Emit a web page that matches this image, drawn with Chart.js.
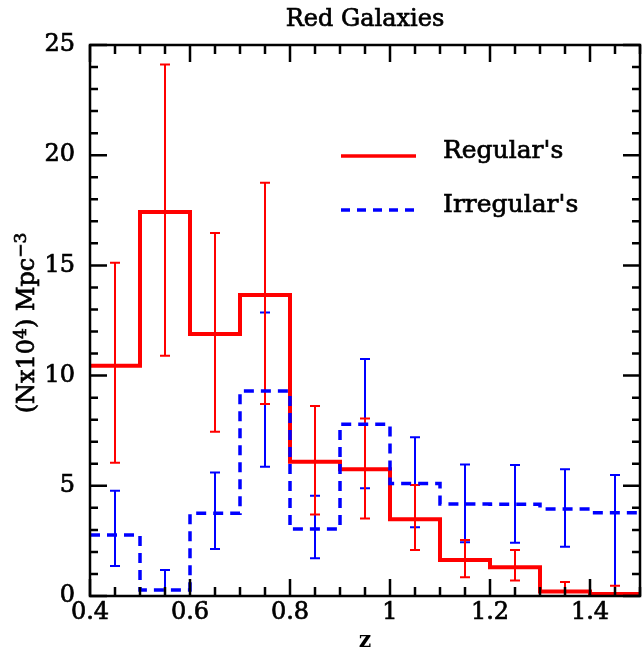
<!DOCTYPE html>
<html>
<head>
<meta charset="utf-8">
<script src="https://cdn.jsdelivr.net/npm/chart.js@4/dist/chart.umd.min.js"></script>
<style>
  html, body { margin: 0; padding: 0; background: #fff; }
  #wrap { width: 642px; height: 656px; }
</style>
</head>
<body>
<div id="wrap"><canvas id="c" width="642" height="656"></canvas></div>
<script>
// Redshift bins (edges) for the number-density histograms
const binEdges = [0.4, 0.5, 0.6, 0.7, 0.8, 0.9, 1.0, 1.1, 1.2, 1.3, 1.4, 1.5];

// Regular red galaxies: density per bin and error-bar limits
const regular   = [10.45, 17.42, 11.89, 13.66, 6.09, 5.75, 3.48, 1.63, 1.30, 0.20, 0.09];
const regularHi = [15.12, 24.12, 16.47, 18.75, 8.62, 8.05, 5.04, 2.54, 2.09, 0.64, 0.47];
const regularLo = [ 6.05, 10.90,  7.45,  8.71, 3.70, 3.52, 2.09, 0.85, 0.70, 0.00, 0.00];

// Irregular red galaxies
const irregular   = [2.77, 0.27, 3.75,  9.30, 3.04,  7.79, 5.11, 4.17, 4.16, 3.95, 3.78];
const irregularHi = [4.78, 1.18, 5.60, 12.86, 4.55, 10.75, 7.20, 5.97, 5.94, 5.75, 5.49];
const irregularLo = [1.36, 0.00, 2.13,  5.87, 1.71,  4.89, 3.12, 2.44, 2.42, 2.24, 0.00];

const xTickLabels = [0.4, 0.6, 0.8, 1.0, 1.2, 1.4];
const yTickLabels = [0, 5, 10, 15, 20, 25];

const FONT = '"DejaVu Serif", "Liberation Serif", serif';
const FS = 24;
const RED = '#ff0000';
const BLUE = '#0000ff';

function stepPoints(vals) {
  return binEdges.map((e, i) => ({ x: e, y: vals[Math.min(i, vals.length - 1)] }));
}

// slightly heavier text: fill plus a thin outline
function heavyText(ctx, txt, x, y) {
  ctx.fillText(txt, x, y);
  ctx.strokeText(txt, x, y);
}

// Error bars at bin centres, frame with inward ticks, title, axis label and legend
const decorations = {
  id: 'decorations',
  beforeDatasetsDraw(chart) {
    const { ctx, chartArea: a, scales: { x, y } } = chart;
    ctx.save();
    ctx.beginPath();
    ctx.rect(a.left, a.top, a.right - a.left, a.bottom - a.top);
    ctx.clip();
    const sets = [
      { lo: irregularLo, hi: irregularHi, color: BLUE },
      { lo: regularLo, hi: regularHi, color: RED }
    ];
    sets.forEach(s => {
      ctx.strokeStyle = s.color;
      ctx.lineWidth = 2;
      for (let i = 0; i < s.lo.length; i++) {
        const cx = x.getPixelForValue((binEdges[i] + binEdges[i + 1]) / 2);
        const y1 = y.getPixelForValue(s.hi[i]);
        const y0 = y.getPixelForValue(s.lo[i]);
        ctx.beginPath();
        ctx.moveTo(cx, y0); ctx.lineTo(cx, y1);
        ctx.moveTo(cx - 5, y1); ctx.lineTo(cx + 5, y1);
        ctx.moveTo(cx - 5, y0); ctx.lineTo(cx + 5, y0);
        ctx.stroke();
      }
    });
    ctx.restore();
  },
  afterDraw(chart) {
    const { ctx, chartArea: a, scales: { x, y } } = chart;
    ctx.save();
    ctx.strokeStyle = '#000';
    ctx.lineWidth = 2.5;
    ctx.strokeRect(a.left, a.top, a.right - a.left, a.bottom - a.top);
    // x ticks every 0.05, major every 0.2
    for (let k = 0; k <= 22; k++) {
      const v = 0.4 + k * 0.05;
      const px = x.getPixelForValue(v);
      const len = (k % 4 === 0) ? 17 : 9;
      ctx.beginPath();
      ctx.moveTo(px, a.bottom); ctx.lineTo(px, a.bottom - len);
      ctx.moveTo(px, a.top); ctx.lineTo(px, a.top + len);
      ctx.stroke();
    }
    // y ticks every 1, major every 5
    for (let v = 0; v <= 25; v++) {
      const py = y.getPixelForValue(v);
      const len = (v % 5 === 0) ? 17 : 8;
      ctx.beginPath();
      ctx.moveTo(a.left, py); ctx.lineTo(a.left + len, py);
      ctx.moveTo(a.right, py); ctx.lineTo(a.right - len, py);
      ctx.stroke();
    }

    ctx.fillStyle = '#000';
    ctx.strokeStyle = '#000';
    ctx.lineWidth = 0.7;

    // title
    ctx.font = FS + 'px ' + FONT;
    ctx.textAlign = 'center';
    ctx.textBaseline = 'middle';
    heavyText(ctx, 'Red Galaxies', (a.left + a.right) / 2, 20);

    // y-axis label with raised exponents
    const parts = [
      { t: '(Nx10', sup: false },
      { t: '4', sup: true },
      { t: ') Mpc', sup: false },
      { t: '\u22123', sup: true }
    ];
    const supFS = 17;
    let total = 0;
    parts.forEach(p => {
      ctx.font = (p.sup ? supFS : FS) + 'px ' + FONT;
      p.w = ctx.measureText(p.t).width;
      total += p.w;
    });
    ctx.save();
    ctx.translate(26, 323);
    ctx.rotate(-Math.PI / 2);
    ctx.textAlign = 'left';
    ctx.textBaseline = 'alphabetic';
    let cx = -total / 2;
    parts.forEach(p => {
      ctx.font = (p.sup ? supFS : FS) + 'px ' + FONT;
      heavyText(ctx, p.t, cx, p.sup ? 0 : 8);
      cx += p.w;
    });
    ctx.restore();

    // legend
    const lx0 = a.left + 251, lx1 = a.left + 326, tx = a.left + 353;
    const ly1 = a.top + 111, ly2 = a.top + 165;
    ctx.lineWidth = 3.5;
    ctx.strokeStyle = RED;
    ctx.beginPath(); ctx.moveTo(lx0, ly1); ctx.lineTo(lx1, ly1); ctx.stroke();
    ctx.strokeStyle = BLUE;
    ctx.setLineDash([9, 7]);
    ctx.beginPath(); ctx.moveTo(lx0, ly2); ctx.lineTo(lx1, ly2); ctx.stroke();
    ctx.setLineDash([]);
    ctx.textAlign = 'left';
    ctx.textBaseline = 'middle';
    ctx.font = '25px ' + FONT;
    ctx.strokeStyle = '#000';
    ctx.lineWidth = 0.7;
    heavyText(ctx, "Regular's", tx, ly1 - 5);
    heavyText(ctx, "Irregular's", tx, ly2 - 5);
    ctx.restore();
  }
};

new Chart(document.getElementById('c'), {
  type: 'line',
  data: {
    datasets: [
      {
        label: "Irregular's",
        data: stepPoints(irregular),
        stepped: 'before',
        borderColor: BLUE,
        borderWidth: 3.5,
        borderDash: [10, 7],
        pointRadius: 0,
        fill: false
      },
      {
        label: "Regular's",
        data: stepPoints(regular),
        stepped: 'before',
        borderColor: RED,
        borderWidth: 4,
        pointRadius: 0,
        fill: false
      }
    ]
  },
  options: {
    responsive: false,
    animation: false,
    devicePixelRatio: 1,
    layout: { padding: { top: 45, right: 2, left: 0, bottom: 0 } },
    plugins: { legend: { display: false }, tooltip: { enabled: false }, title: { display: false } },
    scales: {
      x: {
        type: 'linear',
        min: 0.4, max: 1.5,
        grid: { display: false, drawTicks: false },
        border: { display: false },
        afterFit: s => { s.height = 60; },
        afterBuildTicks: s => { s.ticks = xTickLabels.map(v => ({ value: v })); },
        ticks: {
          color: '#000', padding: 2,
          textStrokeColor: '#000', textStrokeWidth: 0.7,
          font: { family: FONT, size: FS },
          callback: v => String(Math.round(v * 10) / 10)
        },
        title: { display: true, text: 'z', color: '#000', padding: { top: 0, bottom: 2 }, font: { family: FONT, size: 22, weight: 'bold' } }
      },
      y: {
        min: 0, max: 25,
        grid: { display: false, drawTicks: false },
        border: { display: false },
        afterFit: s => { s.width = 90; },
        afterBuildTicks: s => { s.ticks = yTickLabels.map(v => ({ value: v })); },
        ticks: {
          color: '#000', padding: 15,
          textStrokeColor: '#000', textStrokeWidth: 0.7,
          font: { family: FONT, size: FS }
        }
      }
    }
  },
  plugins: [decorations]
});
</script>
</body>
</html>
